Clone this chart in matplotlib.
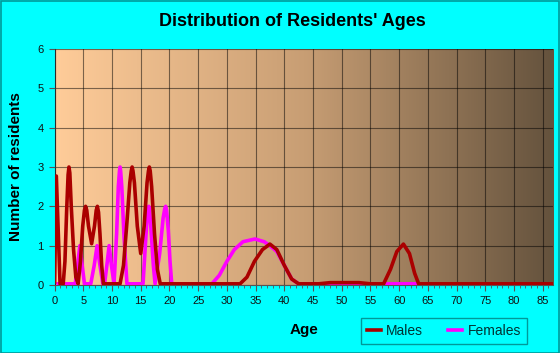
import numpy as np
import matplotlib
matplotlib.use("Agg")
import matplotlib.pyplot as plt
from matplotlib.colors import LinearSegmentedColormap
from matplotlib.patches import Rectangle
from matplotlib.lines import Line2D

plt.rcParams['font.family'] = ['Liberation Sans', 'DejaVu Sans']

# data
male_age = [0.0, 0.3, 0.95, 1.5, 1.8, 2.1, 2.35, 2.5, 2.65, 2.9, 3.3, 3.7, 4.1,
            4.5, 4.9, 5.2, 5.4, 5.6, 5.9, 6.45, 6.95, 7.25, 7.45, 7.65, 7.9, 8.2, 8.5,
            11.4, 12.0, 12.6, 13.1, 13.35, 13.5, 13.65, 13.9, 14.4, 15.0, 15.6, 16.1,
            16.35, 16.5, 16.65, 16.9, 17.4, 17.9, 18.4,
            32.3, 33.5, 34.8, 36.2, 37.5, 38.7, 40.0, 41.3, 42.5,
            46.0, 48.0, 53.0, 55.0,
            57.3, 58.5, 59.6, 60.75, 61.8, 62.7, 63.4, 86.8]
male_val = [0.03, 2.77, 0.03, 0.03, 0.6, 1.9, 2.8, 3.0, 2.85, 2.0, 0.9, 0.2, 0.03,
            0.6, 1.5, 1.9, 2.0, 1.9, 1.5, 1.05, 1.5, 1.9, 2.0, 1.85, 1.3, 0.5, 0.03,
            0.03, 0.5, 1.6, 2.6, 2.9, 3.0, 2.9, 2.6, 1.5, 0.8, 1.5, 2.6,
            2.9, 3.0, 2.9, 2.5, 1.3, 0.4, 0.03,
            0.03, 0.2, 0.6, 0.9, 1.04, 0.9, 0.5, 0.15, 0.03,
            0.03, 0.06, 0.06, 0.03,
            0.03, 0.4, 0.85, 1.04, 0.8, 0.3, 0.03, 0.03]

female_age = [0.3, 3.6, 4.0, 4.4, 4.8, 5.2, 6.3, 6.9, 7.4, 7.9, 8.4,
              8.7, 9.1, 9.5, 9.9, 10.35, 10.8, 11.1, 11.3, 11.4, 11.5, 11.7, 12.1, 12.6,
              15.4, 15.8, 16.1, 16.3, 16.4, 16.5, 16.8, 17.2, 17.5, 18.3, 18.9, 19.2,
              19.35, 19.5, 19.8, 20.1, 20.4,
              27.4, 28.7, 30.0, 31.3, 32.8, 34.9, 36.5, 37.5, 38.7, 40.0,
              41.3, 42.5, 65.4]
female_val = [0.03, 0.03, 0.5, 1.0, 0.5, 0.03, 0.03, 0.5, 1.0, 0.5, 0.03,
              0.03, 0.5, 1.0, 0.5, 0.03, 1.3, 2.5, 2.9, 3.0, 2.9, 2.5, 1.2, 0.03,
              0.03, 1.0, 1.7, 1.95, 2.0, 1.95, 1.4, 0.5, 0.03, 0.8, 1.7, 1.95,
              2.0, 1.9, 1.4, 0.6, 0.03,
              0.03, 0.25, 0.6, 0.9, 1.1, 1.17, 1.1, 1.0, 0.85, 0.5,
              0.15, 0.03, 0.03]

x_max = 86.8
x_ticks = list(range(0, 86, 5))
y_ticks = [0, 1, 2, 3, 4, 5, 6]

fig = plt.figure(figsize=(5.6, 3.53), dpi=100, facecolor='#00ffff')
fig.patches.append(Rectangle((0.001, 0.001), 0.997, 0.996, transform=fig.transFigure,
                             fill=False, edgecolor='#009999', lw=1.2))

ax = fig.add_axes([54.6 / 560, 68 / 353, (553 - 54.6) / 560, (285 - 49) / 353])
ax.set_facecolor('none')

cmap = LinearSegmentedColormap.from_list('bg', ['#ffcc99', '#c89e74', '#64523d'])
ax.imshow(np.linspace(0, 1, 256).reshape(1, -1), extent=[0, x_max, 0, 6],
          aspect='auto', cmap=cmap, zorder=0)

ax.set_xlim(0, x_max)
ax.set_ylim(0, 6)
ax.set_xticks(x_ticks)
ax.set_xticks(range(0, 87), minor=True)
ax.set_yticks(y_ticks)
ax.grid(True, which='major', color='black', alpha=0.5, lw=0.8, zorder=1)
ax.set_axisbelow(False)

ax.plot(female_age, female_val, color='#ff00ff', lw=2.6, zorder=3,
        solid_joinstyle='round', solid_capstyle='butt')
ax.plot(male_age, male_val, color='#aa0000', lw=2.6, zorder=4,
        solid_joinstyle='round', solid_capstyle='butt')

for s in ['top', 'right']:
    ax.spines[s].set_visible(False)
ax.spines['left'].set_color('#555555')
ax.spines['bottom'].set_color('#555555')
ax.tick_params(axis='both', which='major', length=4, color='#555555',
               labelsize=8, labelcolor='#111111', pad=4)
ax.tick_params(axis='x', which='minor', length=2.5, color='#555555')

ax.set_xlabel('Age', fontsize=11, fontweight='bold', labelpad=12)
ax.set_ylabel('Number of residents', fontsize=11, fontweight='bold', labelpad=10)
fig.text(292 / 560, 1 - 22 / 353, "Distribution of Residents' Ages", ha='center',
         va='center', fontsize=13, fontweight='bold')

handles = [Line2D([], [], color='#aa0000', lw=2.6), Line2D([], [], color='#ff00ff', lw=2.6)]
leg = fig.legend(handles, ['Males', 'Females'], ncol=2, loc='center',
                 bbox_to_anchor=(444 / 560, 1 - 331 / 353), frameon=True, fancybox=False,
                 fontsize=10, handlelength=1.0, handletextpad=0.4, columnspacing=1.8,
                 borderpad=0.4, edgecolor='#008080', facecolor='#00ffff')
leg.get_frame().set_linewidth(1.0)
for t in leg.get_texts():
    t.set_color('#003333')

fig.savefig('out.png', dpi=100, facecolor=fig.get_facecolor())
